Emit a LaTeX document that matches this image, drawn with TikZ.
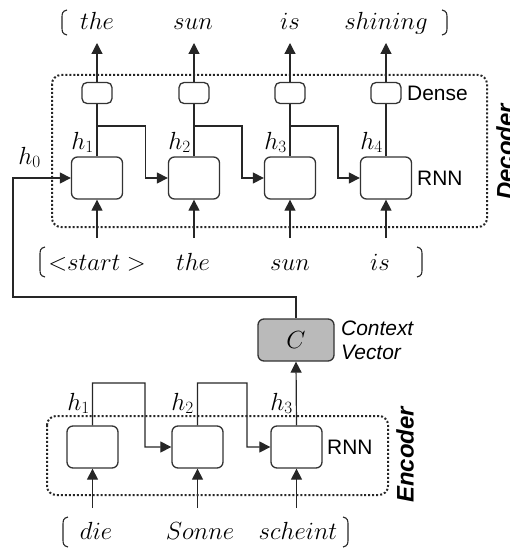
\documentclass[tikz,border=0pt]{standalone}
\usepackage{fontspec}
\setmainfont{Liberation Sans}
\usetikzlibrary{arrows.meta,calc}

\begin{document}
\begin{tikzpicture}[x=1bp,y=-1bp,
  cell/.style={draw=black!80, line width=1.3bp, rounded corners=6bp, minimum width=51bp, minimum height=42bp, inner sep=0pt},
  densebox/.style={draw=black!80, line width=1.3bp, rounded corners=5bp, minimum width=30bp, minimum height=21bp, inner sep=0pt},
  ctx/.style={cell, fill=black!27, minimum width=76bp, font=\fontsize{23}{26}\selectfont},
  frame/.style={draw=black!85, line width=2bp, dotted, rounded corners=9bp},
  conn/.style={line width=1.2bp, draw=black!85},
  arr/.style={conn, -{Triangle[length=11bp,width=11bp]}},
  word/.style={font=\fontsize{23}{26}\selectfont, inner sep=0pt, anchor=base},
  hlab/.style={font=\fontsize{23}{26}\selectfont, inner sep=0pt, anchor=south east},
  sans/.style={font=\fontsize{21}{24}\selectfont, inner sep=0pt, anchor=west},
  side/.style={font=\bfseries\itshape\fontsize{24}{26}\selectfont, inner sep=0pt, rotate=90},
  brk/.style={line width=1.1bp, draw=black!85}
]
\useasboundingbox (0,0) rectangle (510,550);

% frames
\draw[frame] (52,75) rectangle (487,227);
\draw[frame] (47,416) rectangle (388,495);

% decoder nodes
\node[densebox] (d1) at (97,93) {};
\node[densebox] (d2) at (194,93) {};
\node[densebox] (d3) at (290,93) {};
\node[densebox] (d4) at (386,93) {};
\node[cell] (r1) at (97,178) {};
\node[cell] (r2) at (194,178) {};
\node[cell] (r3) at (290,178) {};
\node[cell] (r4) at (386,178) {};

% output words
\node[word] (o1) at (97,30) {$the$};
\node[word] (o2) at (193,30) {$sun$};
\node[word] (o3) at (290,30) {$is$};
\node[word] (o4) at (386,30) {$shining$};
\coordinate (t1) at (97,43);
\coordinate (t2) at (194,43);
\coordinate (t3) at (290,43);
\coordinate (t4) at (386,43);

% decoder inputs
\node[word] (i1) at (97,270) {${<}start\ {>}$};
\node[word] (i2) at (193,270) {$the$};
\node[word] (i3) at (290,270) {$sun$};
\node[word] (i4) at (380,270) {$is$};
\coordinate (b1) at (97,238);
\coordinate (b2) at (194,238);
\coordinate (b3) at (290,238);
\coordinate (b4) at (386,238);

% decoder connectors
\foreach \k in {1,2,3,4}{
  \draw[conn] (r\k.north) -- (d\k.south);
  \draw[arr] (d\k.north) -- (t\k);
  \draw[arr] (b\k) -- (r\k.south);
}
\coordinate (j1) at (97,126);
\coordinate (j2) at (194,126);
\coordinate (j3) at (290,126);
\coordinate (m1) at ($(r1.east)!0.5!(r2.west)$);
\coordinate (m2) at ($(r2.east)!0.5!(r3.west)$);
\coordinate (m3) at ($(r3.east)!0.5!(r4.west)$);
\draw[arr] (j1) -| (m1) -- (r2.west);
\draw[arr] (j2) -| (m2) -- (r3.west);
\draw[arr] (j3) -| (m3) -- (r4.west);

% decoder h labels
\node[hlab] (h1) at (94,153) {$h_1$};
\node[hlab] (h2) at (191,153) {$h_2$};
\node[hlab] (h3) at (287,153) {$h_3$};
\node[hlab] (h4) at (383,153) {$h_4$};
\node[hlab] (h0) at (41,168) {$h_0$};

\node[sans] (dense) at (407,93) {Dense};
\node[sans] (rnnd) at (417,178) {RNN};
\node[side] (declab) at (505,152) {Decoder};

% context vector
\node[ctx] (c) at (296,340) {$C$};
\node[sans, align=left] (ctxlab) at (341,340) {\itshape Context\\\itshape Vector};
\coordinate (p2) at (13,297);
\draw[arr] (c.north) |- (p2) |- (r1.west);

% encoder
\node[cell] (e1) at (92.5,447) {};
\node[cell] (e2) at (197.5,447) {};
\node[cell] (e3) at (296.5,447) {};
\node[sans] (rnne) at (327,447) {RNN};
\node[side] (enclab) at (405,455) {Encoder};

\node[word] (w1) at (96,539) {$die$};
\node[word] (w2) at (200,539) {$Sonne$};
\node[word] (w3) at (298,539) {$scheint$};
\coordinate (eb1) at (92.5,508);
\coordinate (eb2) at (197.5,508);
\coordinate (eb3) at (296.5,508);
\foreach \k in {1,2,3}{
  \draw[arr] (eb\k) -- (e\k.south);
}
\coordinate (ej1) at (92.5,383);
\coordinate (ej2) at (197.5,383);
\coordinate (em1) at ($(e1.east)!0.5!(e2.west)$);
\coordinate (em2) at ($(e2.east)!0.5!(e3.west)$);
\draw[arr] (e1.north) -- (ej1) -| (em1) -- (e2.west);
\draw[arr] (e2.north) -- (ej2) -| (em2) -- (e3.west);
\draw[arr] (e3.north) -- (c.south);

\node[hlab] (eh1) at (90,414) {$h_1$};
\node[hlab] (eh2) at (194,414) {$h_2$};
\node[hlab] (eh3) at (293,414) {$h_3$};

% brackets
\draw[brk] (67,10) .. controls (62,11) and (62,14) .. (62,18) -- (62,27) .. controls (62,31) and (62,34) .. (67,35);
\draw[brk] (442,10) .. controls (447,11) and (447,14) .. (447,18) -- (447,27) .. controls (447,31) and (447,34) .. (442,35);
\draw[brk] (45,247) .. controls (40,248) and (40,251) .. (40,255) -- (40,269) .. controls (40,273) and (40,276) .. (45,277);
\draw[brk] (417,247) .. controls (422,248) and (422,251) .. (422,255) -- (422,269) .. controls (422,273) and (422,276) .. (417,277);
\draw[brk] (68,517) .. controls (63,518) and (63,521) .. (63,525) -- (63,539) .. controls (63,543) and (63,546) .. (68,547);
\draw[brk] (343,517) .. controls (348,518) and (348,521) .. (348,525) -- (348,539) .. controls (348,543) and (348,546) .. (343,547);
\end{tikzpicture}
\end{document}
